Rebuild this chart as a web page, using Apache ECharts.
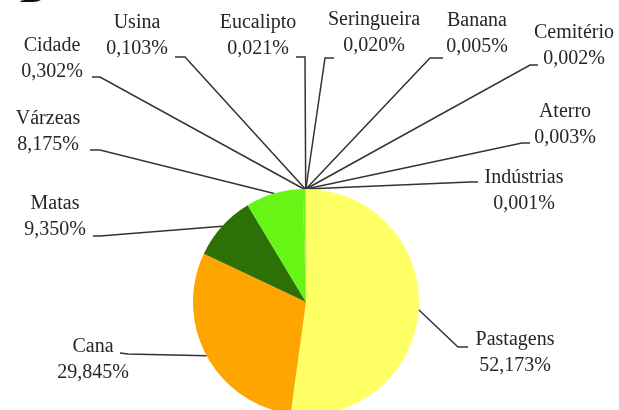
<!DOCTYPE html>
<html>
<head>
<meta charset="utf-8">
<script src="https://cdn.jsdelivr.net/npm/echarts@6/dist/echarts.min.js"></script>
<style>
  html, body { margin: 0; padding: 0; background: #fff; }
  #container { width: 619px; height: 410px; }
</style>
</head>
<body>
<div id="container"></div>
<script>
// land use shares (%), clockwise from 12 o'clock
const categories = ["Pastagens", "Cana", "Matas", "Várzeas", "Cidade", "Usina",
  "Eucalipto", "Seringueira", "Banana", "Cemitério", "Aterro", "Indústrias"];
const shares = [52.173, 29.845, 9.35, 8.175, 0.302, 0.103, 0.021, 0.02, 0.005, 0.002, 0.003, 0.001];
const sliceColors = ["#ffff66", "#ffa500", "#2e7008", "#66f514", "#66f514", "#66f514",
  "#66f514", "#ffff66", "#ffff66", "#ffff66", "#ffff66", "#ffff66"];

// label placement: [centerX, centerY, elbowX, elbowY, endX, endY]
const labelSpots = {
  "Pastagens": [515, 353, 458, 347, 468, 347],
  "Cana": [93, 360, 128, 354, 120, 353],
  "Matas": [55, 217, 100, 236, 93, 236],
  "Várzeas": [48, 132, 100, 150, 90, 150],
  "Cidade": [52, 59, 100, 77, 92, 77],
  "Usina": [137, 36, 185, 57, 175, 57],
  "Eucalipto": [258, 36, 305, 57, 296, 57],
  "Seringueira": [374, 33, 325, 58, 334, 58],
  "Banana": [477, 34, 430, 58, 443, 58],
  "Cemitério": [574, 46, 530, 65, 538, 65],
  "Aterro": [565, 125, 522, 143, 530, 143],
  "Indústrias": [524, 191, 470, 182, 478, 182]
};

const dom = document.getElementById("container");
const myChart = echarts.init(dom, null, { renderer: "canvas" });

const option = {
  animation: false,
  title: {
    text: "B",
    left: 15,
    top: -30,
    textStyle: {
      fontFamily: "Liberation Serif",
      fontSize: 36,
      fontWeight: "bold",
      color: "#111"
    }
  },
  series: [
    {
      type: "pie",
      center: [306, 302],
      radius: 113,
      startAngle: 90,
      clockwise: true,
      avoidLabelOverlap: false,
      emphasis: { disabled: true },
      itemStyle: { borderWidth: 0 },
      label: {
        show: true,
        fontFamily: "Liberation Serif",
        fontSize: 20,
        lineHeight: 26,
        color: "#262626",
        formatter: (p) => p.name + "\n" + p.value.toFixed(3).replace(".", ",") + "%"
      },
      labelLine: {
        show: true,
        smooth: false,
        lineStyle: { color: "#333", width: 1.5 }
      },
      labelLayout: (params) => {
        const name = categories[params.dataIndex];
        const s = labelSpots[name];
        const start = params.labelLinePoints ? params.labelLinePoints[0] : [306, 189];
        return {
          x: s[0],
          y: s[1],
          align: "center",
          verticalAlign: "middle",
          labelLinePoints: [start, [s[2], s[3]], [s[4], s[5]]]
        };
      },
      data: categories.map((name, i) => ({
        name: name,
        value: shares[i],
        itemStyle: { color: sliceColors[i] }
      }))
    }
  ]
};

myChart.setOption(option);
</script>
</body>
</html>
